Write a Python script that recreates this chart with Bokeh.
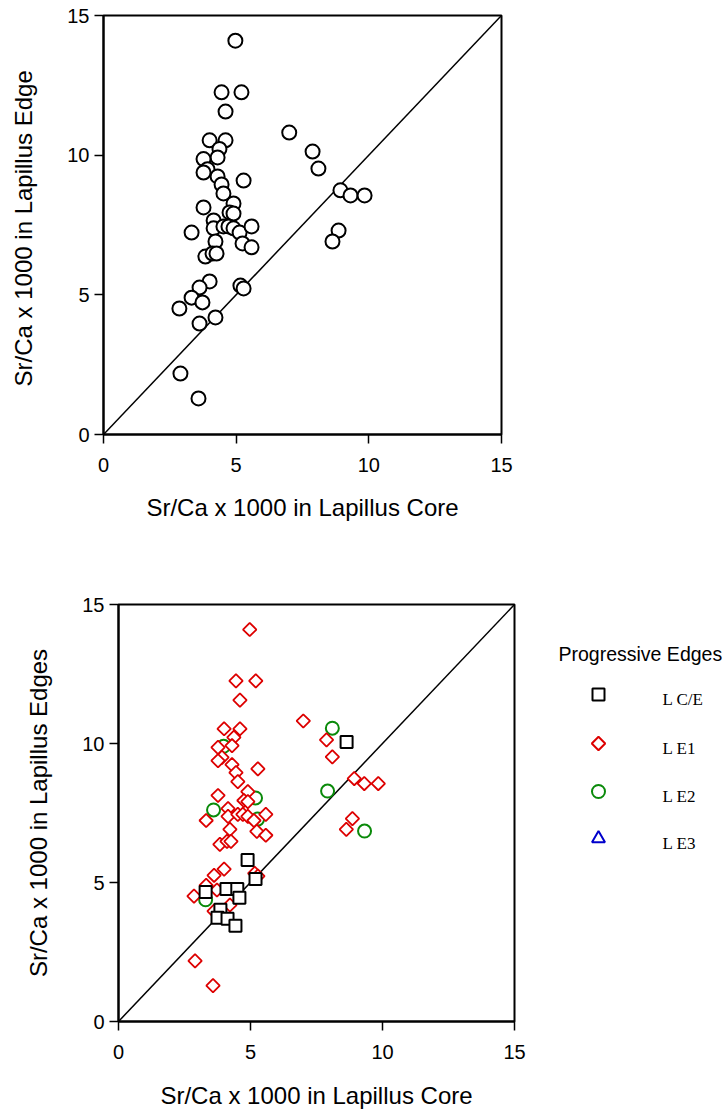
import numpy as np
from bokeh.plotting import figure
from bokeh.layouts import column, row
from bokeh.models import Range1d, FixedTicker
from bokeh.core.properties import value
from bokeh.embed import file_html
from bokeh.resources import INLINE

# ---------------- data ----------------
core_e1 = [4.97, 4.45, 5.20, 4.60, 7.00, 4.00, 4.60, 4.37, 7.88, 4.30,
           3.77, 8.10, 3.92, 3.77, 4.30, 5.28, 4.45, 4.52, 8.93, 9.31,
           9.84, 4.90, 3.77, 4.75, 4.90, 4.15, 4.15, 4.52, 4.71, 4.90,
           5.13, 5.58, 3.32, 4.22, 5.24, 5.58, 3.84, 4.11, 4.26, 8.86,
           8.63, 4.00, 3.62, 3.32, 3.73, 2.86, 5.16, 5.28, 4.22, 3.62,
           2.90, 3.58]
edge_e1 = [14.10, 12.25, 12.25, 11.56, 10.81, 10.53, 10.53, 10.22, 10.13, 9.92,
           9.86, 9.52, 9.50, 9.38, 9.24, 9.09, 8.95, 8.63, 8.74, 8.56,
           8.56, 8.27, 8.13, 7.95, 7.91, 7.66, 7.38, 7.45, 7.45, 7.38,
           7.23, 7.45, 7.23, 6.91, 6.84, 6.70, 6.37, 6.48, 6.48, 7.30,
           6.91, 5.48, 5.26, 4.90, 4.73, 4.51, 5.33, 5.23, 4.19, 3.97,
           2.18, 1.29]

core_ce = [4.89, 5.19, 3.30, 4.09, 4.50, 4.58, 3.86, 3.75, 4.13, 4.43, 8.64]
edge_ce = [5.81, 5.13, 4.66, 4.77, 4.77, 4.45, 4.02, 3.73, 3.70, 3.44, 10.05]

core_e2 = [8.10, 7.92, 9.32, 5.19, 3.60, 5.27, 3.30, 3.98]
edge_e2 = [10.55, 8.29, 6.85, 8.04, 7.61, 7.28, 4.38, 9.90]

core_e3 = []
edge_e3 = []

ticks = [0, 5, 10, 15]
axis_lim = [0, 15]

x_label = "Sr/Ca x 1000 in Lapillus Core"
y_label_top = "Sr/Ca x 1000 in  Lapillus Edge"
y_label_bottom = "Sr/Ca x 1000 in Lapillus Edges"
legend_title = "Progressive Edges"
legend_labels = ["L C/E", "L E1", "L E2", "L E3"]

RED = "#dd0000"
GREEN = "#0a8a0a"
BLUE = "#0000cc"
SANS = "Liberation Sans"
SERIF = "Liberation Serif"


def make_fig(w, h, left, right, top, bottom, ylab, xstand):
    p = figure(width=w, height=h, output_backend="svg", toolbar_location=None,
               x_range=Range1d(axis_lim[0], axis_lim[1]),
               y_range=Range1d(axis_lim[0], axis_lim[1]),
               min_border_left=left, min_border_right=right,
               min_border_top=top, min_border_bottom=bottom)
    p.xgrid.visible = False
    p.ygrid.visible = False
    p.outline_line_color = "black"
    p.outline_line_width = 2
    p.outline_line_alpha = 1
    for ax in (p.xaxis, p.yaxis):
        ax.ticker = FixedTicker(ticks=ticks)
        ax.major_tick_out = 9
        ax.major_tick_in = 0
        ax.minor_tick_out = 0
        ax.minor_tick_in = 0
        ax.major_tick_line_width = 1.5
        ax.axis_line_width = 2
        ax.major_label_text_font = SANS
        ax.major_label_text_font_size = "20px"
        ax.major_label_text_color = "black"
        ax.axis_label_text_font = SANS
        ax.axis_label_text_font_size = "24px"
        ax.axis_label_text_font_style = "normal"
        ax.axis_label_text_color = "black"
    p.xaxis.major_label_standoff = 14
    p.yaxis.major_label_standoff = 5
    p.xaxis.axis_label = x_label
    p.yaxis.axis_label = ylab
    p.xaxis.axis_label_standoff = xstand
    p.yaxis.axis_label_standoff = 27
    p.line(axis_lim, axis_lim, line_color="black", line_width=1.5)
    return p


# ---------------- top plot ----------------
top = make_fig(540, 558, 103, 39, 15, 124, y_label_top, 19)
top.scatter(core_e1, edge_e1, marker="circle", size=14, line_color="black",
            line_width=2, fill_color="white")

# ---------------- bottom plot ----------------
BT, BB, BH = 46, 97, 560
bot = make_fig(540, BH, 118, 26, BT, BB, y_label_bottom, 20)
bot.scatter(core_e2, edge_e2, marker="circle", size=13, line_color=GREEN,
            line_width=2, fill_color="white")
bot.scatter(core_e1, edge_e1, marker="square", angle=np.pi / 4, size=9.5,
            line_color=RED, line_width=1.8, fill_color="white")
bot.scatter(core_ce, edge_ce, marker="square", size=12, line_color="black",
            line_width=2, fill_color="white")
bot.scatter(core_e3, edge_e3, marker="triangle", size=13, line_color=BLUE,
            line_width=2, fill_color="white")

# ---------------- legend panel (frame aligned with bottom plot) ----------------
LW = 183
lg = figure(width=LW, height=BH, output_backend="svg", toolbar_location=None,
            x_range=Range1d(0, LW), y_range=Range1d(BH - BB, BT),
            x_axis_type=None, y_axis_type=None,
            min_border_left=0, min_border_right=0,
            min_border_top=BT, min_border_bottom=BB)
lg.xgrid.visible = False
lg.ygrid.visible = False
lg.outline_line_color = None

lg.text(x=[18], y=[95], text=[legend_title], text_font=value(SANS),
        text_font_size="19.5px", text_baseline="alphabetic", text_align="left",
        text_color="black")
ly = [136, 185, 233, 280]
specs = [("square", 12, 0, "black"),
         ("square", 9.5, np.pi / 4, RED),
         ("circle", 13, 0, GREEN),
         ("triangle", 13, 0, BLUE)]
for yy, (mk, sz, ang, col) in zip(ly, specs):
    lg.scatter([58], [yy], marker=mk, size=sz, angle=ang, line_color=col,
               line_width=2, fill_color="white")
lg.text(x=[122] * 4, y=[v + 5 for v in ly], text=legend_labels,
        text_font=value(SERIF), text_font_size="17px",
        text_baseline="alphabetic", text_align="left", text_color="black")

layout = column(top, row(bot, lg))
open("out.html", "w").write(file_html(layout, INLINE))
